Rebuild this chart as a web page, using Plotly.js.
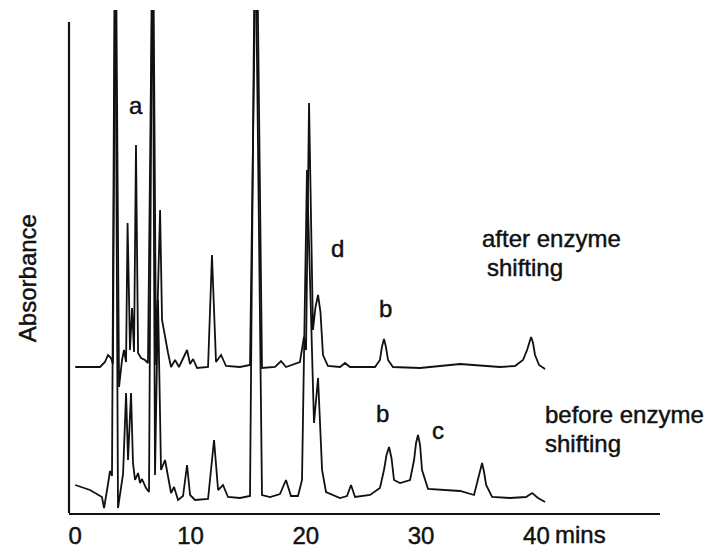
<!DOCTYPE html>
<html>
<head>
<meta charset="utf-8">
<script src="https://cdn.plot.ly/plotly-3.0.1.min.js"></script>
<style>
html,body{margin:0;padding:0;background:#fff;}
#chart{width:705px;height:550px;}
#chart text{stroke:#111;stroke-width:0.45px;}
</style>
</head>
<body>
<div id="chart"></div>
<script>
// Retention time (min) and absorbance signal
const timesBefore = [0.0,1.28,2.32,2.50,2.76,3.02,3.19,3.45,3.71,3.97,4.15,4.41,4.58,4.84,5.01,5.19,5.45,5.62,5.79,6.14,6.40,6.70,6.92,7.18,7.44,7.79,8.05,8.31,8.57,8.92,9.35,9.70,9.96,10.39,11.52,12.04,12.39,12.82,13.25,14.29,15.16,15.60,16.20,16.90,17.76,18.28,18.71,19.32,19.67,20.10,20.71,21.06,21.41,21.75,22.97,23.57,23.92,24.27,25.57,26.43,26.78,27.00,27.22,27.43,27.65,28.17,29.04,29.39,29.56,29.73,29.91,30.08,30.60,33.38,34.59,34.94,35.12,35.29,35.46,35.64,36.16,37.71,39.10,39.63,40.14,40.75];
const beforeSignal = [28,23,16,5,23,42,37,620,5,23,39,120,53,120,50,33,40,30,34,25,21,620,38,213,43,53,36,20,26,13,17,48,18,13,14,73,23,28,16,15,17,620,18,16,19,33,17,17,33,343,90,135,43,21,15,17,28,16,18,25,43,58,66,55,33,30,33,53,70,78,68,43,24,22,18,33,43,50,41,28,16,15,16,20,15,11];

const timesAfter = [0.0,2.15,2.58,2.84,3.10,3.27,3.50,3.80,4.06,4.23,4.41,4.54,4.67,4.75,4.93,5.10,5.27,5.45,5.71,6.05,6.31,6.74,7.01,7.36,7.53,7.79,8.05,8.31,8.66,9.00,9.70,9.96,10.22,10.57,11.52,11.86,12.21,12.65,13.08,14.29,15.16,15.72,16.20,17.33,17.85,18.28,19.49,19.84,20.02,20.28,20.62,20.84,21.06,21.27,21.49,21.92,22.97,23.40,23.83,26.00,26.43,26.60,26.78,26.95,27.13,27.56,29.91,33.38,36.84,38.14,38.84,39.19,39.37,39.54,39.71,39.88,40.23,40.75];
const afterSignal = [0,0,5,12,9,3,480,-20,7,17,5,144,67,17,59,15,222,14,9,7,4,480,2,157,47,29,14,0,7,0,17,3,8,-1,0,112,5,12,1,0,2,480,-1,0,6,0,5,30,17,264,37,60,72,55,12,1,0,4,0,0,7,20,28,20,7,0,-1,3,0,1,7,17,25,30,24,12,2,-2];

const tickValues = [0, 10, 20, 30, 40];
const tickLabels = ['0', '10', '20', '30', '40'];
const peakLabels = ['a', 'd', 'b', 'b', 'c'];
const traceLabels = ['after enzyme', 'shifting', 'before enzyme', 'shifting'];
const axisUnit = 'mins';
const yTitle = 'Absorbance';

const afterOffset = 146;
const afterY = afterSignal.map(v => v + afterOffset);

const FONT = 'Liberation Sans, Arial, Helvetica, sans-serif';
const fs = 24;
const ink = '#111';

const traces = [
  {x: timesBefore, y: beforeSignal, mode: 'lines', line: {color: ink, width: 1.8}, hoverinfo: 'skip'},
  {x: timesAfter, y: afterY, mode: 'lines', line: {color: ink, width: 1.8}, hoverinfo: 'skip'}
];

const peakPos = [[5.25, 408], [22.71, 265], [26.87, 205], [26.69, 100], [31.47, 83]];
const ann = peakLabels.map((t, i) => ({
  x: peakPos[i][0], y: peakPos[i][1], xref: 'x', yref: 'y', text: t, showarrow: false,
  font: {family: FONT, size: fs, color: ink}, xanchor: 'center', yanchor: 'middle'
}));
const labPos = [[35.11, 275], [35.54, 246], [40.57, 99], [40.57, 70]];
traceLabels.forEach((t, i) => ann.push({
  x: labPos[i][0], y: labPos[i][1], xref: 'x', yref: 'y', text: t, showarrow: false,
  font: {family: FONT, size: fs, color: ink}, xanchor: 'left', yanchor: 'middle'
}));
ann.push({x: 41.45, y: -0.0437, xref: 'x', yref: 'paper', text: axisUnit, showarrow: false,
  font: {family: FONT, size: fs, color: ink}, xanchor: 'left', yanchor: 'middle'});
ann.push({x: -0.071, y: 0.467, xref: 'paper', yref: 'paper', text: yTitle, showarrow: false,
  textangle: -90, font: {family: FONT, size: fs, color: ink}, xanchor: 'center', yanchor: 'middle'});

const layout = {
  width: 705, height: 550,
  margin: {l: 69, r: 45, t: 10, b: 37},
  paper_bgcolor: '#fff', plot_bgcolor: '#fff',
  showlegend: false,
  xaxis: {
    range: [-0.54, 50.72], showgrid: false, zeroline: false,
    showline: true, linecolor: ink, linewidth: 2.2,
    ticks: '', tickvals: tickValues, ticktext: tickLabels,
    tickfont: {family: FONT, size: fs, color: ink}
  },
  yaxis: {
    range: [0, 503], showgrid: false, zeroline: false, showline: false,
    showticklabels: false, ticks: ''
  },
  shapes: [{type: 'line', xref: 'paper', yref: 'y', x0: 0, x1: 0, y0: 0, y1: 491,
    line: {color: ink, width: 2.2}}],
  annotations: ann
};

Plotly.newPlot('chart', traces, layout, {staticPlot: true, displayModeBar: false});
</script>
</body>
</html>
